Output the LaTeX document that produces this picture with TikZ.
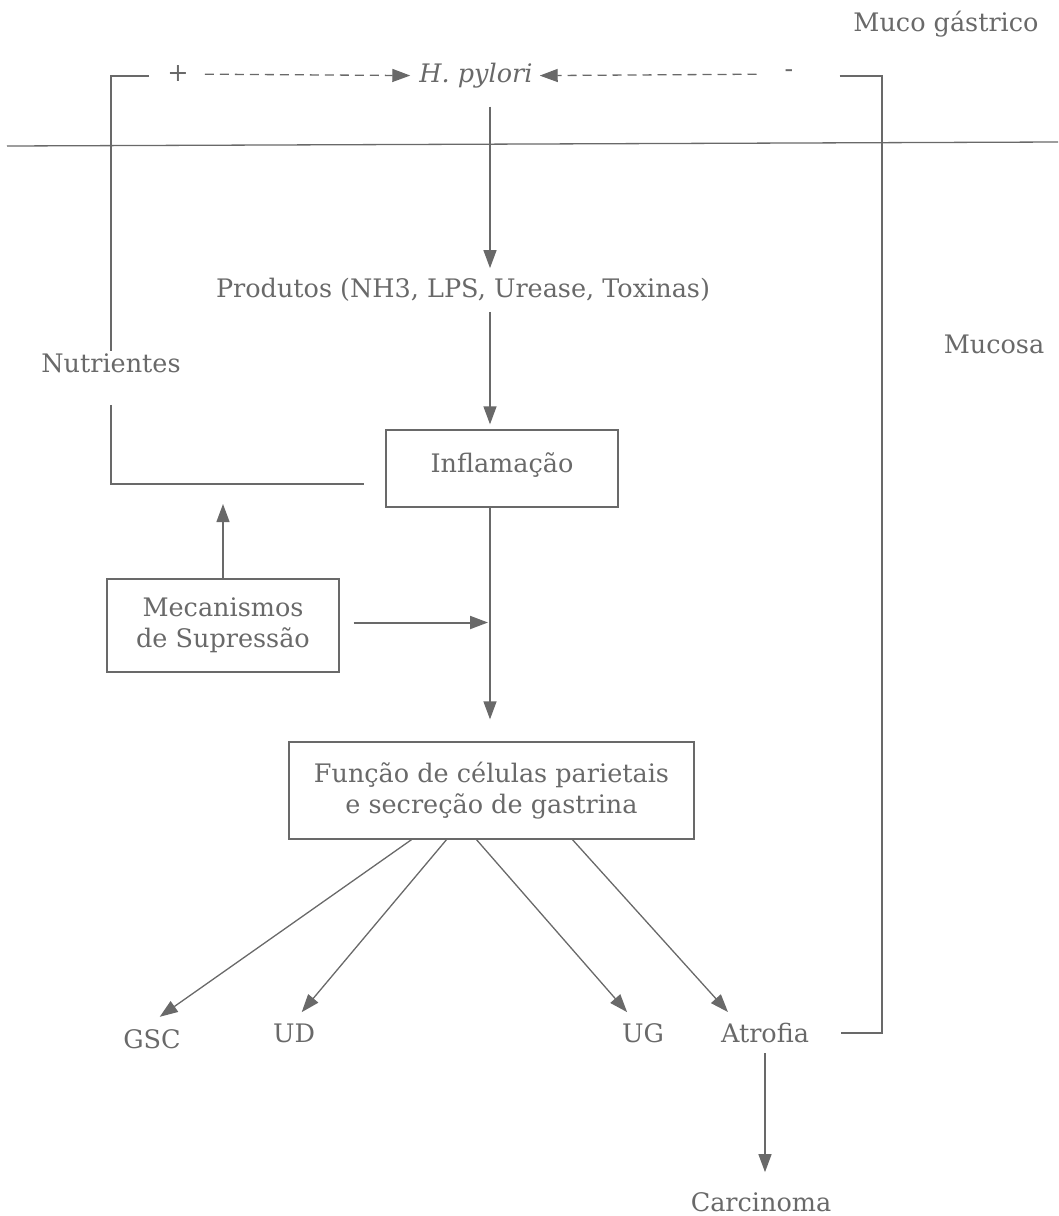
\documentclass[tikz,border=0pt]{standalone}
\usepackage{fontspec}
\setmainfont{DejaVu Serif}
\usetikzlibrary{arrows.meta}
\definecolor{diagray}{RGB}{105,105,105}
\tikzset{
  lbl/.style={text=diagray, font=\fontsize{25.5}{31}\selectfont, inner sep=2pt},
  box/.style={lbl, draw=diagray, line width=1.3pt, align=center},
  ln/.style={diagray, line width=1.3pt},
  arr/.style={ln, -{Triangle[length=18pt,width=13pt]}},
  dsh/.style={arr, dash pattern=on 9pt off 6pt},
}
\begin{document}
\begin{tikzpicture}[x=1pt,y=-1pt]
    \useasboundingbox (0,0) rectangle (1058,1216);

\begin{scope}[every node/.style={lbl}]
    \node (muco) at (946,24) {Muco gástrico};
    \node (mucosa) at (994,344) {Mucosa};
    \node (plus) at (178,74) {+};
    \node (hp) at (476,76) {\itshape H. pylori};
    \node (minus) at (789,74) {-};
    \node (prod) at (463,290) {Produtos (NH3, LPS, Urease, Toxinas)};
    \node (nutr) at (111,363) {Nutrientes};
    \node (gsc) at (152,1039) {GSC};
    \node (ud) at (294,1033) {UD};
    \node (ug) at (643,1033) {UG};
    \node (atr) at (765,1033) {Atrofia};
    \node (carc) at (761,1202) {Carcinoma};
\end{scope}

\begin{scope}[every node/.style={box}]
    \node[minimum width=232pt, minimum height=77pt] (infl) at (502,468.5) {\raisebox{12pt}{Inflamação}};
    \node[minimum width=232pt, minimum height=93pt] (mec) at (223,625.5) {Mecanismos\\de Supressão};
    \node[minimum width=405pt, minimum height=97pt] (func) at (491.5,790.5) {Função de células parietais\\e secreção de gastrina};
\end{scope}

    \coordinate (spine) at (490,0);
    \coordinate (rc) at (882,0);
    \coordinate (nj) at (364,484);

    % gastric mucus / mucosa border
    \draw[ln] (7,146) -- (1058,142);

    % feedback onto H. pylori
    \draw[dsh, shorten <=14pt, shorten >=7pt] (plus) -- (hp);
    \draw[dsh, shorten <=26pt, shorten >=5pt] (minus) -- (hp);
    \draw[ln] ([xshift=-16pt]plus.west |- hp) -| (nutr.north);
    \draw[ln, shorten <=30pt] (nutr.south) |- (nj);
    \draw[ln] ([xshift=44pt]minus.east |- hp) -| (rc |- atr) -- ([xshift=30pt]atr.east);

    % main chain
    \draw[arr, shorten <=16pt, shorten >=8pt] (hp.south -| spine) -- (prod.north -| spine);
    \draw[arr, shorten <=8pt, shorten >=5pt] (prod.south -| spine) -- (infl.north -| spine);
    \draw[arr, shorten >=22pt] (infl.south -| spine) -- (func.north -| spine);
    \draw[arr, shorten >=20pt] (mec.north) -- (mec.north |- nj);
    \draw[arr, line width=2pt, shorten <=14pt, shorten >=2pt] ([yshift=3pt]mec.east) -- ([yshift=3pt]mec.east -| spine);

    % outcomes
    \draw[arr, shorten >=18pt] ([xshift=-80pt]func.south) -- ([xshift=-7pt]gsc.north);
    \draw[arr, shorten >=12pt] ([xshift=-45pt]func.south) -- (ud.north);
    \draw[arr, shorten >=12pt] ([xshift=-15pt]func.south) -- ([xshift=-8pt]ug.north);
    \draw[arr, shorten >=12pt] ([xshift=81pt]func.south) -- ([xshift=-29pt]atr.north);
    \draw[arr, shorten <=8pt, shorten >=18pt] (atr.south) -- (atr.south |- carc.north);
\end{tikzpicture}
\end{document}
